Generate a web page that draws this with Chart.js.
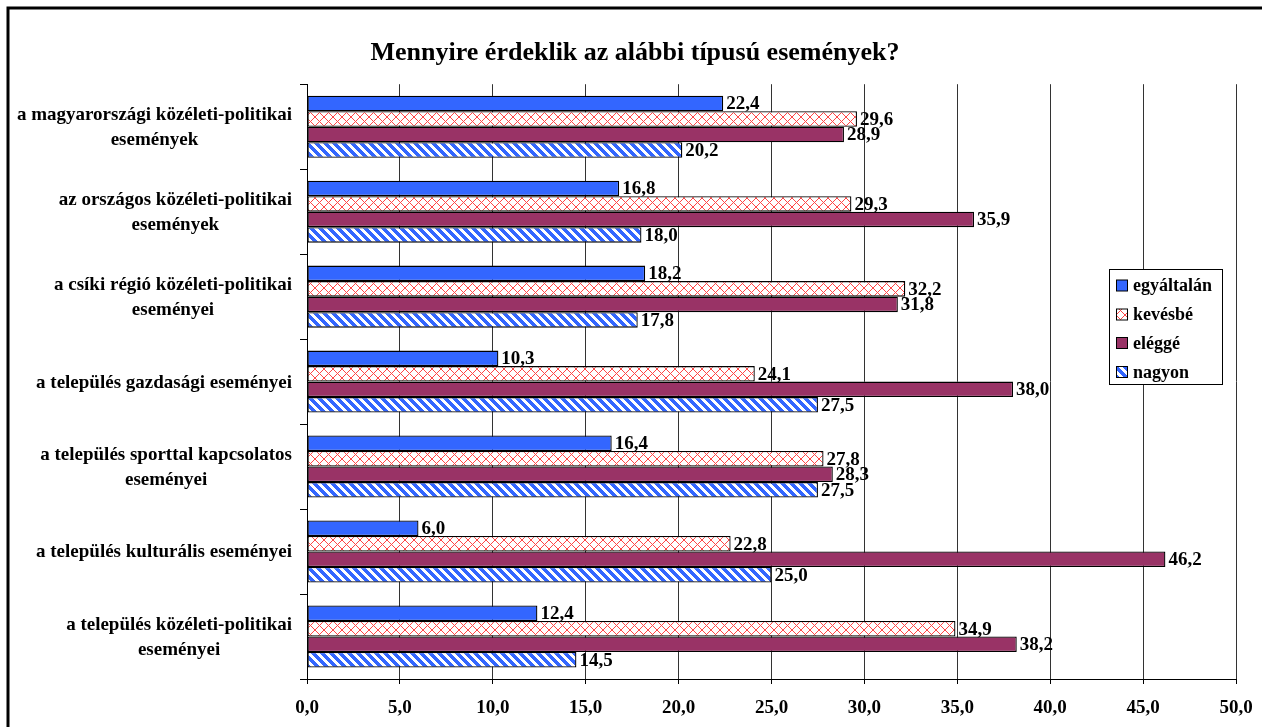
<!DOCTYPE html>
<html>
<head>
<meta charset="utf-8">
<script src="https://cdn.jsdelivr.net/npm/chart.js@4/dist/chart.umd.min.js"></script>
<style>
  html, body { margin: 0; padding: 0; background: #fff; }
  canvas { display: block; }
</style>
</head>
<body>
<canvas id="c" width="1262" height="727"></canvas>
<script>
const titleText = 'Mennyire érdeklik az alábbi típusú események?';
const categories = [
  ['a magyarországi közéleti-politikai', 'események'],
  ['az országos közéleti-politikai', 'események'],
  ['a csíki régió közéleti-politikai', 'eseményei'],
  ['a település gazdasági eseményei'],
  ['a település sporttal kapcsolatos', 'eseményei'],
  ['a település kulturális eseményei'],
  ['a település közéleti-politikai', 'eseményei']
];
const seriesNames = ['egyáltalán', 'kevésbé', 'eléggé', 'nagyon'];
const egyaltalan = [22.4, 16.8, 18.2, 10.3, 16.4, 6.0, 12.4];
const kevesbe    = [29.6, 29.3, 32.2, 24.1, 27.8, 22.8, 34.9];
const elegge     = [28.9, 35.9, 31.8, 38.0, 28.3, 46.2, 38.2];
const nagyon     = [20.2, 18.0, 17.8, 27.5, 27.5, 25.0, 14.5];
const xTicks = [0, 5, 10, 15, 20, 25, 30, 35, 40, 45, 50];

const FONT = '"Liberation Serif", "Times New Roman", serif';

function makePattern(size, fn) {
  const c = document.createElement('canvas');
  c.width = size; c.height = size;
  const g = c.getContext('2d');
  const img = g.createImageData(size, size);
  for (let y = 0; y < size; y++) {
    for (let x = 0; x < size; x++) {
      const col = fn(x, y);
      const i = (y * size + x) * 4;
      img.data[i] = col[0]; img.data[i+1] = col[1]; img.data[i+2] = col[2]; img.data[i+3] = 255;
    }
  }
  g.putImageData(img, 0, 0);
  return document.createElement('canvas').getContext('2d').createPattern(c, 'repeat');
}
const WHITE = [255, 255, 255];
const RED = [255, 70, 70];
const BLUE = [51, 102, 255];
const hatch = makePattern(9, (x, y) => (x === y || x + y === 8) ? RED : WHITE);
const stripes = makePattern(9, (x, y) => (((x - y) % 9) + 9) % 9 < 5 ? BLUE : WHITE);

const frameAndLabels = {
  id: 'frameAndLabels',
  beforeDraw(chart) {
    const ctx = chart.ctx;
    ctx.save();
    ctx.fillStyle = '#fff';
    ctx.fillRect(0, 0, chart.width, chart.height);
    ctx.strokeStyle = '#000';
    ctx.lineWidth = 3;
    ctx.strokeRect(8, 8, chart.width + 20, chart.height + 20);
    ctx.restore();
  },
  afterDatasetsDraw(chart) {
    const ctx = chart.ctx;
    ctx.save();
    ctx.font = 'bold 19px ' + FONT;
    ctx.fillStyle = '#000';
    ctx.textAlign = 'left';
    ctx.textBaseline = 'middle';
    chart.data.datasets.forEach((ds, di) => {
      const meta = chart.getDatasetMeta(di);
      meta.data.forEach((bar, i) => {
        const txt = ds.data[i].toFixed(1).replace('.', ',');
        ctx.fillText(txt, bar.x + 3, bar.y + 1);
      });
    });
    const yScale = chart.scales.y;
    ctx.font = 'bold 19px ' + FONT;
    ctx.textAlign = 'center';
    const rightEdge = 292;
    const lh = 25;
    categories.forEach((lines, i) => {
      const yc = yScale.getPixelForValue(i) + 1;
      let w = 0;
      lines.forEach(l => { w = Math.max(w, ctx.measureText(l).width); });
      const xc = rightEdge - w / 2;
      const y0 = yc - (lines.length - 1) * lh / 2;
      lines.forEach((l, k) => ctx.fillText(l, xc, y0 + k * lh));
    });
    ctx.restore();
  },
  afterDraw(chart) {
    const ctx = chart.ctx;
    ctx.save();
    const bx = 1109.5, by = 269.5, bw = 113, bh = 115;
    ctx.fillStyle = '#fff';
    ctx.fillRect(bx, by, bw, bh);
    ctx.strokeStyle = '#000';
    ctx.lineWidth = 1;
    ctx.strokeRect(bx, by, bw, bh);
    const ys = [285.5, 314.5, 343, 372];
    ctx.font = 'bold 18px ' + FONT;
    ctx.textBaseline = 'middle';
    ctx.textAlign = 'left';
    chart.data.datasets.forEach((ds, i) => {
      ctx.fillStyle = ds.backgroundColor;
      ctx.fillRect(1116.5, ys[i] - 5.5, 11, 11);
      ctx.strokeStyle = '#000';
      ctx.strokeRect(1116.5, ys[i] - 5.5, 11, 11);
      ctx.fillStyle = '#000';
      ctx.fillText(ds.label, 1133, ys[i] + 1);
    });
    ctx.restore();
  }
};

new Chart(document.getElementById('c'), {
  type: 'bar',
  data: {
    labels: categories,
    datasets: [
      { label: seriesNames[0], data: egyaltalan, backgroundColor: '#3366FF' },
      { label: seriesNames[1], data: kevesbe, backgroundColor: hatch },
      { label: seriesNames[2], data: elegge, backgroundColor: '#993366' },
      { label: seriesNames[3], data: nagyon, backgroundColor: stripes }
    ].map(d => Object.assign(d, { borderColor: '#000', borderWidth: 1.3, borderSkipped: false }))
  },
  options: {
    indexAxis: 'y',
    responsive: false,
    animation: false,
    categoryPercentage: 0.73,
    barPercentage: 1.0,
    layout: { padding: { left: 34, right: 26, top: 0, bottom: 0 } },
    plugins: {
      legend: { display: false },
      tooltip: { enabled: false },
      title: {
        display: true,
        text: titleText,
        color: '#000',
        font: { family: FONT, size: 26, weight: 'bold', lineHeight: 1.2 },
        padding: { top: 38, bottom: 15 }
      }
    },
    scales: {
      x: {
        min: 0, max: 50,
        afterBuildTicks(scale) { scale.ticks = xTicks.map(v => ({ value: v })); },
        afterFit(scale) { scale.height = 48; scale.paddingRight = 0; scale.paddingLeft = 0; },
        grid: { color: '#333', lineWidth: 1, drawTicks: true, tickLength: 5, tickColor: '#000' },
        border: { display: true, color: '#000', width: 1 },
        ticks: {
          color: '#000',
          padding: 13,
          maxRotation: 0,
          font: { family: FONT, size: 19, weight: 'bold' },
          callback: v => Number(v).toFixed(1).replace('.', ',')
        }
      },
      y: {
        afterFit(scale) { scale.width = 273; },
        grid: { drawOnChartArea: false, drawTicks: true, tickLength: 7, color: '#000', offset: true },
        border: { display: true, color: '#000', width: 1 },
        ticks: { display: false }
      }
    }
  },
  plugins: [frameAndLabels]
});
</script>
</body>
</html>
